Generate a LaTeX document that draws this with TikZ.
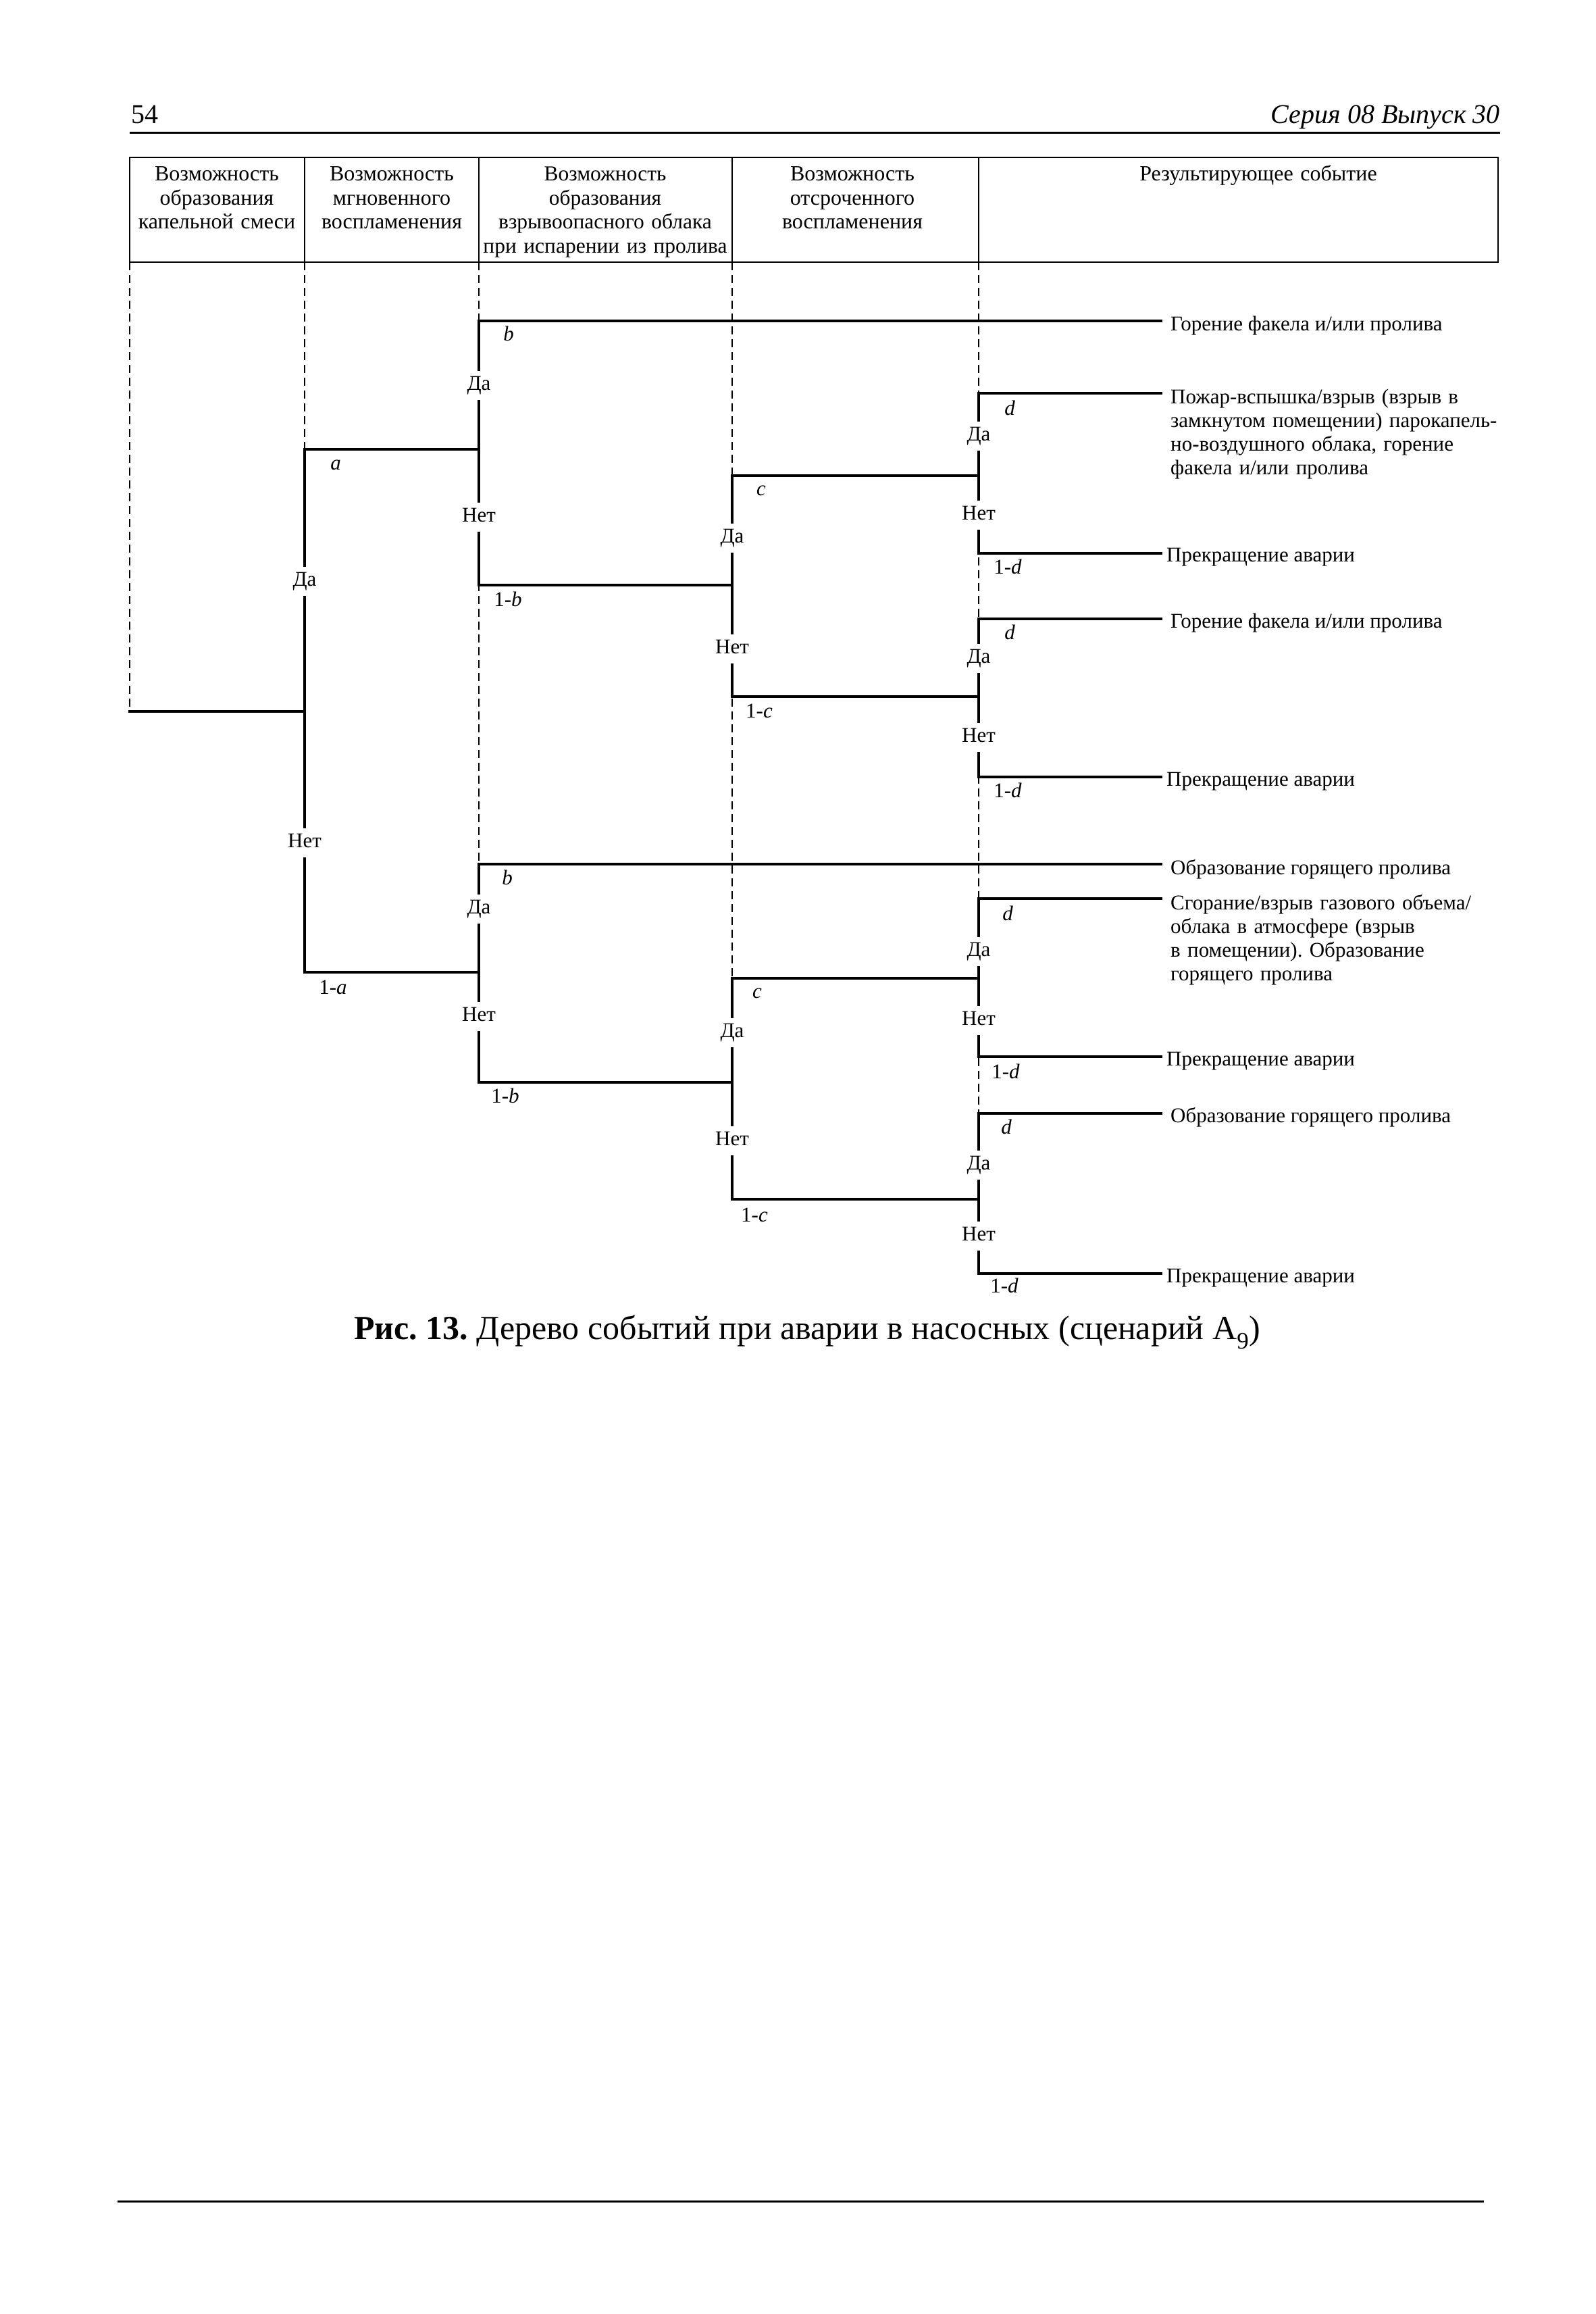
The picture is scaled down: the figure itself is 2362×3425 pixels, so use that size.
\documentclass[tikz,border=0pt]{standalone}
\usepackage{fontspec}
\setmainfont{Liberation Serif}
\frenchspacing
\begin{document}
\begin{tikzpicture}[x=1pt,y=-1pt,
  tree/.style={line width=4.5pt, line join=miter, line cap=rect},
  guide/.style={line width=1.5pt, dash pattern=on 12pt off 7pt},
  frame/.style={line width=2.5pt},
  rule/.style={line width=3pt},
  yn/.style={fill=white, inner xsep=3pt, inner ysep=9pt, text height=20pt, text depth=5pt, font=\fontsize{31}{35}\selectfont},
  prob/.style={inner sep=0pt, font=\fontsize{31}{35}\selectfont},
  res/.style={inner xsep=14pt, inner ysep=0pt, anchor=base west, font=\fontsize{31}{35}\selectfont},
  resm/.style={res, text width=620pt, align=left},
  head/.style={inner sep=0pt, anchor=base, align=center, font=\fontsize{32}{35.5}\selectfont}
]
\fill[white] (0,0) rectangle (2362,3425);
\useasboundingbox (0,0) rectangle (2362,3425);

% page header
\node[inner sep=0pt, anchor=base west, font=\fontsize{40}{44}\selectfont] (pnum) at (194,183) {54};
\node[inner sep=0pt, anchor=base east, font=\fontsize{40}{44}\selectfont\itshape] (series) at (2221,183) {Серия 08 Выпуск 30};
\coordinate (hr1) at (192,197);
\coordinate (hr2) at (2221,197);
\draw[rule] (hr1) -- (hr2);

% footer rule
\coordinate (fr1) at (174,3258);
\coordinate (fr2) at (2197,3258);
\draw[rule] (fr1) -- (fr2);

% table header
\def\Ctop{233}
\def\Cbot{388}
\draw[frame] (192,\Ctop) rectangle (2218,\Cbot);
\foreach \cx in {451,709,1084,1449} {
  \draw[frame] (\cx,\Ctop) -- (\cx,\Cbot);
}
\node[head, text width=255pt] (h1) at (321,268) {Возможность\\образования\\капельной смеси};
\node[head, text width=255pt] (h2) at (580,268) {Возможность\\мгновенного\\воспламенения};
\node[head, text width=380pt, font=\fontsize{31.5}{35.5}\selectfont] (h3) at (896,268) {Возможность\\образования\\взрывоопасного облака\\при испарении из пролива};
\node[head, text width=360pt] (h4) at (1262,268) {Возможность\\отсроченного\\воспламенения};
\node[head, text width=700pt] (h5) at (1863,268) {Результирующее событие};

% coordinates of the tree
\coordinate (root) at (192,1053);
\coordinate (A) at (451,1053);
\coordinate (Ay) at (451,665);
\coordinate (An) at (451,1439);

\coordinate (B1) at (709,665);
\coordinate (B1y) at (709,475);
\coordinate (B1n) at (709,866);
\coordinate (C1) at (1084,866);
\coordinate (C1y) at (1084,704);
\coordinate (C1n) at (1084,1031);
\coordinate (D1) at (1449,704);
\coordinate (D1y) at (1449,582);
\coordinate (D1n) at (1449,819);
\coordinate (D2) at (1449,1031);
\coordinate (D2y) at (1449,916);
\coordinate (D2n) at (1449,1150);

\coordinate (B2) at (709,1439);
\coordinate (B2y) at (709,1279);
\coordinate (B2n) at (709,1602);
\coordinate (C2) at (1084,1602);
\coordinate (C2y) at (1084,1448);
\coordinate (C2n) at (1084,1775);
\coordinate (D3) at (1449,1448);
\coordinate (D3y) at (1449,1330);
\coordinate (D3n) at (1449,1564);
\coordinate (D4) at (1449,1775);
\coordinate (D4y) at (1449,1648);
\coordinate (D4n) at (1449,1885);

% dashed guides
\draw[guide] (192,\Cbot) -- (root);
\draw[guide] (451,\Cbot) -- (Ay);
\draw[guide] (709,\Cbot) -- (B2y);
\draw[guide] (1084,\Cbot) -- (C2y);
\draw[guide] (1449,\Cbot) -- (D4y);

% result texts
\node[res] (r1) at (1719,489) {Горение факела и/или пролива};
\node[resm] (r2) at (1719,597) {Пожар-вспышка/взрыв (взрыв в\\замкнутом помещении) парокапель-\\но-воздушного облака, горение\\факела и/или пролива};
\node[res, inner xsep=8pt] (r3) at (1719,831) {Прекращение аварии};
\node[res] (r4) at (1719,929) {Горение факела и/или пролива};
\node[res, inner xsep=8pt] (r5) at (1719,1163) {Прекращение аварии};
\node[res] (r6) at (1719,1294) {Образование горящего пролива};
\node[resm] (r7) at (1719,1346) {Сгорание/взрыв газового объема/\\облака в атмосфере (взрыв\\в помещении). Образование\\горящего пролива};
\node[res, inner xsep=8pt] (r8) at (1719,1577) {Прекращение аварии};
\node[res] (r9) at (1719,1661) {Образование горящего пролива};
\node[res, inner xsep=8pt] (r10) at (1719,1898) {Прекращение аварии};

% tree lines
\draw[tree] (root) -- (A);
\draw[tree] (B1) -- (Ay) -- (An) -- (B2);
\draw[tree] (B1y -| r1.west) -- (B1y) -- (B1n) -- (C1);
\draw[tree] (D1) -- (C1y) -- (C1n) -- (D2);
\draw[tree] (D1y -| r2.west) -- (D1y) -- (D1n) -- (D1n -| r3.west);
\draw[tree] (D2y -| r4.west) -- (D2y) -- (D2n) -- (D2n -| r5.west);
\draw[tree] (B2y -| r6.west) -- (B2y) -- (B2n) -- (C2);
\draw[tree] (D3) -- (C2y) -- (C2n) -- (D4);
\draw[tree] (D3y -| r7.west) -- (D3y) -- (D3n) -- (D3n -| r8.west);
\draw[tree] (D4y -| r9.west) -- (D4y) -- (D4n) -- (D4n -| r10.west);

% yes / no labels
\node[yn] (ayes) at (451,860) {Да};
\node[yn] (ano) at (451,1247) {Нет};
\node[yn] (b1yes) at (709,570) {Да};
\node[yn] (b1no) at (709,765) {Нет};
\node[yn] (c1yes) at (1084,796) {Да};
\node[yn] (c1no) at (1084,960) {Нет};
\node[yn] (d1yes) at (1449,645) {Да};
\node[yn] (d1no) at (1449,762) {Нет};
\node[yn] (d2yes) at (1449,974) {Да};
\node[yn] (d2no) at (1449,1091) {Нет};
\node[yn] (b2yes) at (709,1345) {Да};
\node[yn] (b2no) at (709,1504) {Нет};
\node[yn] (c2yes) at (1084,1528) {Да};
\node[yn] (c2no) at (1084,1688) {Нет};
\node[yn] (d3yes) at (1449,1408) {Да};
\node[yn] (d3no) at (1449,1510) {Нет};
\node[yn] (d4yes) at (1449,1724) {Да};
\node[yn] (d4no) at (1449,1829) {Нет};

% probabilities
\node[prob] (pa) at (497,688) {\itshape a};
\node[prob] (p1a) at (493,1461) {1-\textit{a}};
\node[prob] (pb1) at (753,494) {\itshape b};
\node[prob] (p1b1) at (752,887) {1-\textit{b}};
\node[prob] (pc1) at (1127,726) {\itshape c};
\node[prob] (p1c1) at (1124,1052) {1-\textit{c}};
\node[prob] (pd1) at (1495,604) {\itshape d};
\node[prob] (p1d1) at (1492,839) {1-\textit{d}};
\node[prob] (pd2) at (1495,936) {\itshape d};
\node[prob] (p1d2) at (1492,1170) {1-\textit{d}};
\node[prob] (pb2) at (751,1299) {\itshape b};
\node[prob] (p1b2) at (748,1622) {1-\textit{b}};
\node[prob] (pc2) at (1121,1470) {\itshape c};
\node[prob] (p1c2) at (1117,1798) {1-\textit{c}};
\node[prob] (pd3) at (1492,1352) {\itshape d};
\node[prob] (p1d3) at (1489,1586) {1-\textit{d}};
\node[prob] (pd4) at (1490,1668) {\itshape d};
\node[prob] (p1d4) at (1487,1903) {1-\textit{d}};

% caption
\node[inner sep=0pt, anchor=base, font=\fontsize{50}{54}\selectfont] (cap) at (1195,1982) {\textbf{Рис. 13.} Дерево событий при аварии в насосных (сценарий A\textsubscript{9})};
\end{tikzpicture}
\end{document}
